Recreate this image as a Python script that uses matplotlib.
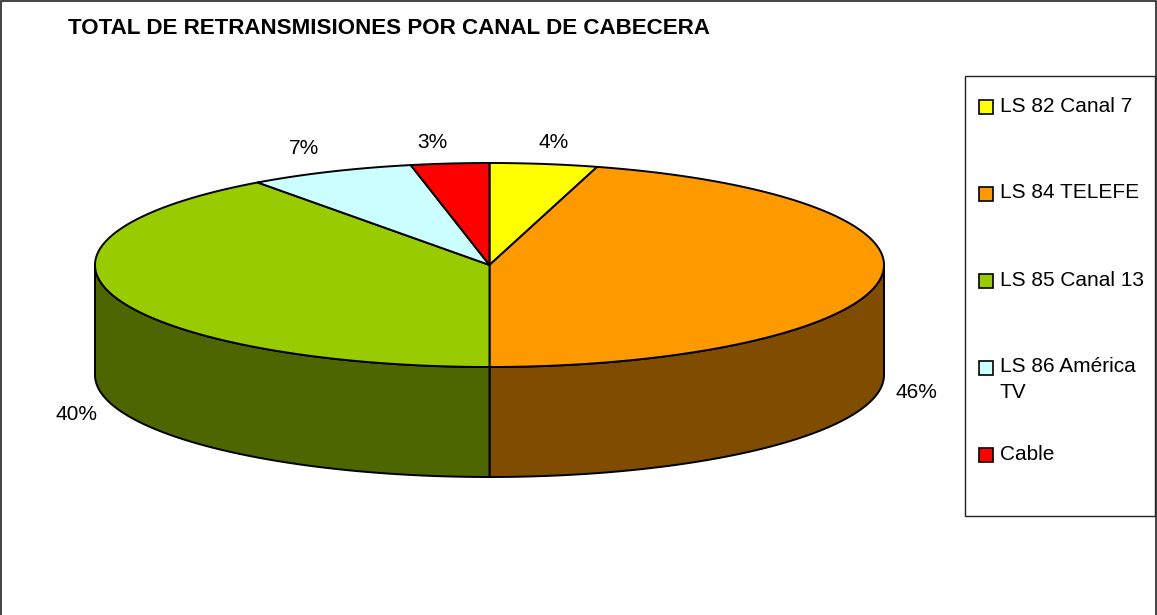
import numpy as np
import matplotlib
matplotlib.use("Agg")
import matplotlib.pyplot as plt
from matplotlib.patches import Polygon, Rectangle

plt.rcParams['font.family'] = ['Liberation Sans', 'DejaVu Sans']

# shares (the labels are rounded)
canales = ["LS 82 Canal 7", "LS 84 TELEFE", "LS 85 Canal 13", "LS 86 América\nTV", "Cable"]
valores = [4.4, 45.6, 40.0, 6.8, 3.2]
etiquetas = ["4%", "46%", "40%", "7%", "3%"]
colores = ["#FFFF00", "#FF9900", "#99CC00", "#CCFFFF", "#FF0000"]
oscuros = ["#808000", "#804D00", "#4D6600", "#668080", "#800000"]

# where things sit, in pixels of the 1157x615 picture
cx, cy, rx, ry, alto = 489.5, 265, 394.5, 102, 110
pos_etiq = [(554, 142), (916, 393), (76, 415), (304, 149), (432, 142)]
pos_leyenda = [106, 193, 280, 367, 454]

fig = plt.figure(figsize=(11.57, 6.15), dpi=100)
ax = fig.add_axes([0, 0, 1, 1])
ax.set_xlim(0, 1157)
ax.set_ylim(615, 0)
ax.axis("off")

# outer frame
ax.add_patch(Rectangle((1, 1), 1155, 640, fc="white", ec="#222222", lw=1.2))

ax.text(68, 29, "TOTAL DE RETRANSMISIONES POR CANAL DE CABECERA",
        fontsize=16.15, fontweight="bold", va="center", ha="left", color="black")


def borde(a1, a2):
    # a = degrees clockwise from the top of the ellipse
    a = np.radians(np.linspace(a1, a2, 200))
    return cx + rx * np.sin(a), cy - ry * np.cos(a)


limites = np.cumsum([0] + valores) * 3.6

# side walls first, only the front half shows
for i in range(len(valores)):
    a1 = max(limites[i], 90)
    a2 = min(limites[i + 1], 270)
    if a2 <= a1:
        continue
    x, y = borde(a1, a2)
    pts = np.r_[np.c_[x, y], np.c_[x[::-1], y[::-1] + alto]]
    ax.add_patch(Polygon(pts, closed=True, fc=oscuros[i], ec="black", lw=1.4, joinstyle="round"))

# top face
for i in range(len(valores)):
    x, y = borde(limites[i], limites[i + 1])
    pts = np.r_[[[cx, cy]], np.c_[x, y]]
    ax.add_patch(Polygon(pts, closed=True, fc=colores[i], ec="black", lw=1.4, joinstyle="round"))

for txt, (x, y) in zip(etiquetas, pos_etiq):
    ax.text(x, y, txt, fontsize=15, ha="center", va="center", color="black")

# legend
ax.add_patch(Rectangle((965, 76), 190, 440, fc="white", ec="#222222", lw=1))
for nombre, col, y in zip(canales, colores, pos_leyenda):
    ax.add_patch(Rectangle((979, y - 6), 14, 14, fc=col, ec="black", lw=1.2))
    if "\n" in nombre:
        # wrapped entry, first line stays level with the swatch
        ax.text(1000, y - 10, nombre, fontsize=15, ha="left", va="top", linespacing=1.48)
    else:
        ax.text(1000, y, nombre, fontsize=15, ha="left", va="center")

fig.savefig("out.png", dpi=100)
